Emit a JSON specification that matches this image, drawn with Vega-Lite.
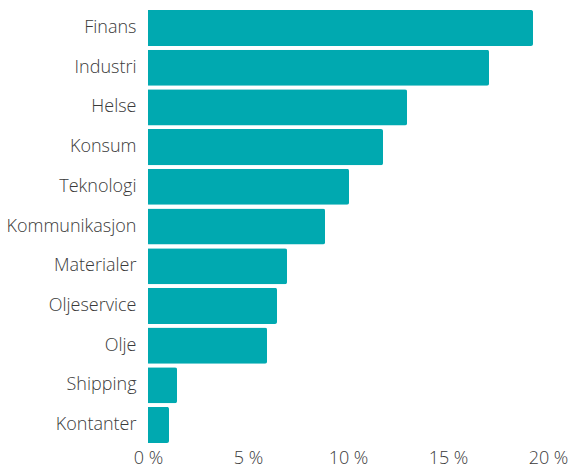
{
  "$schema": "https://vega.github.io/schema/vega-lite/v6.json",
  "width": 400,
  "height": 437,
  "autosize": "none",
  "padding": {"left": 148, "top": 8, "right": 22, "bottom": 21},
  "background": "white",
  "config": {"view": {"stroke": null}, "font": "Open Sans"},
  "data": {"values": [
    {"sektor": "Finans", "andel": 19.25},
    {"sektor": "Industri", "andel": 17.05},
    {"sektor": "Helse", "andel": 12.95},
    {"sektor": "Konsum", "andel": 11.75},
    {"sektor": "Teknologi", "andel": 10.05},
    {"sektor": "Kommunikasjon", "andel": 8.85},
    {"sektor": "Materialer", "andel": 6.95},
    {"sektor": "Oljeservice", "andel": 6.45},
    {"sektor": "Olje", "andel": 5.95},
    {"sektor": "Shipping", "andel": 1.45},
    {"sektor": "Kontanter", "andel": 1.05}
  ]},
  "mark": {"type": "bar", "color": "#00a9b0", "cornerRadiusEnd": 2},
  "encoding": {
    "y": {"field": "sektor", "type": "nominal", "sort": null,
      "scale": {"paddingInner": 0.09, "paddingOuter": 0.05},
      "axis": {"title": null, "domain": false, "ticks": false, "labelPadding": 12, "labelFontSize": 18, "labelFont": "Open Sans", "labelFontWeight": 300, "labelColor": "#3a3a3a"}},
    "x": {"field": "andel", "type": "quantitative",
      "scale": {"domain": [0, 20], "nice": false},
      "axis": {"title": null, "domain": false, "ticks": false, "grid": false, "values": [0, 5, 10, 15, 20], "labelExpr": "datum.value + ' %'", "labelPadding": 4, "labelFontSize": 18, "labelFont": "Open Sans", "labelFontWeight": 300, "labelColor": "#3a3a3a", "labelFlush": false}}
  }
}
